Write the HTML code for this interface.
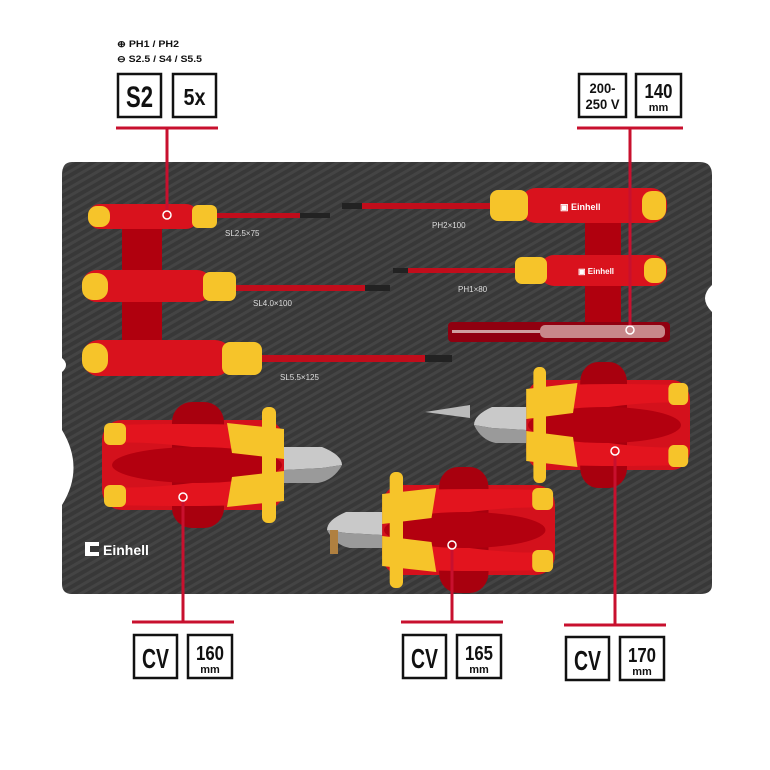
<!DOCTYPE html>
<html><head><meta charset="utf-8"><style>
html,body{margin:0;padding:0;background:#fff;}
svg{display:block;font-family:"Liberation Sans",sans-serif;}
.bx{fill:#fff;stroke:#111;stroke-width:2.5}
.bt{font-family:"Liberation Sans",sans-serif;font-weight:bold;fill:#111;text-anchor:middle}
.rl{stroke:#c8102e;stroke-width:3;fill:none}
.lbl{font-size:8px;fill:#ddd}
</style></head><body>
<svg width="770" height="770" viewBox="0 0 770 770">
<defs>
<pattern id="cf" width="7" height="7" patternUnits="userSpaceOnUse" patternTransform="rotate(-30)">
<rect width="7" height="7" fill="#383838"/>
<rect width="7" height="3" fill="#444"/>
</pattern>
<g id="pl">
<rect x="0" y="-45" width="182" height="90" rx="20" fill="#d4111c"/>
<rect x="70" y="-63" width="52" height="126" rx="20" fill="#a8000e"/>
<path d="M8,-40 Q90,-42 140,-40 L180,-36 L180,-8 Q120,-10 90,-18 Q40,-24 8,-22Z" fill="#e3141e"/>
<path d="M8,40 Q90,42 140,40 L180,36 L180,8 Q120,10 90,18 Q40,24 8,22Z" fill="#e3141e"/>
<ellipse cx="95" cy="0" rx="85" ry="18" fill="#b3000f"/>
<rect x="2" y="-42" width="22" height="22" rx="6" fill="#f6c42a"/>
<rect x="2" y="20" width="22" height="22" rx="6" fill="#f6c42a"/>
<path d="M125,-42 L182,-36 L182,-6 L130,-12 Z" fill="#f6c42a"/>
<path d="M125,42 L182,36 L182,6 L130,12 Z" fill="#f6c42a"/>
<rect x="160" y="-58" width="14" height="116" rx="6" fill="#f6c42a"/>
<path d="M182,-18 L220,-18 Q240,-10 240,0 L220,3 L182,5Z" fill="#c9c9c9"/>
<path d="M182,5 L220,3 L240,0 Q232,15 216,18 L182,18Z" fill="#9a9a9a"/>
</g>
</defs>
<!-- tray -->
<path d="M72,162 L700,162 Q712,162 712,175 L712,285 Q698,298 712,312 L712,585 Q712,594 700,594 L72,594 Q62,594 62,584 L62,505 Q85,468 62,430 L62,372 Q70,365 62,358 L62,175 Q62,162 72,162Z" fill="url(#cf)"/>
<rect x="122" y="220" width="40" height="130" fill="#b0000e"/>
<rect x="585" y="215" width="36" height="118" fill="#b0000e"/>
<rect x="215" y="213" width="115" height="5" fill="#c10d1b"/><rect x="300" y="213" width="30" height="5" fill="#222"/>
<rect x="88" y="204" width="110" height="25" rx="12" fill="#d9121d"/>
<rect x="88" y="206" width="22" height="21" rx="9" fill="#f6c42a"/>
<rect x="192" y="205" width="25" height="23" rx="6" fill="#f6c42a"/>
<text x="225" y="236" class="lbl">SL2.5×75</text>
<rect x="235" y="285" width="155" height="6" fill="#c10d1b"/><rect x="365" y="285" width="25" height="6" fill="#222"/>
<rect x="82" y="270" width="130" height="32" rx="15" fill="#d9121d"/>
<rect x="82" y="273" width="26" height="27" rx="11" fill="#f6c42a"/>
<rect x="203" y="272" width="33" height="29" rx="7" fill="#f6c42a"/>
<text x="253" y="306" class="lbl">SL4.0×100</text>
<rect x="260" y="355" width="192" height="7" fill="#c10d1b"/><rect x="425" y="355" width="27" height="7" fill="#222"/>
<rect x="82" y="340" width="150" height="36" rx="17" fill="#d9121d"/>
<rect x="82" y="343" width="26" height="30" rx="12" fill="#f6c42a"/>
<rect x="222" y="342" width="40" height="33" rx="8" fill="#f6c42a"/>
<text x="280" y="380" class="lbl">SL5.5×125</text>
<rect x="342" y="203" width="150" height="6" fill="#c10d1b"/><rect x="342" y="203" width="20" height="6" fill="#222"/>
<rect x="520" y="188" width="147" height="35" rx="16" fill="#d9121d"/>
<rect x="490" y="190" width="38" height="31" rx="8" fill="#f6c42a"/>
<rect x="642" y="191" width="24" height="29" rx="10" fill="#f6c42a"/>
<text x="560" y="210" font-size="9" font-weight="bold" fill="#fff">▣ Einhell</text>
<text x="432" y="228" class="lbl">PH2×100</text>
<rect x="393" y="268" width="125" height="5" fill="#c10d1b"/><rect x="393" y="268" width="15" height="5" fill="#222"/>
<rect x="540" y="255" width="127" height="31" rx="14" fill="#d9121d"/>
<rect x="515" y="257" width="32" height="27" rx="7" fill="#f6c42a"/>
<rect x="644" y="258" width="22" height="25" rx="9" fill="#f6c42a"/>
<text x="578" y="274" font-size="8" font-weight="bold" fill="#fff">▣ Einhell</text>
<text x="458" y="292" class="lbl">PH1×80</text>
<rect x="448" y="322" width="222" height="20" rx="4" fill="#900010"/>
<rect x="452" y="330" width="90" height="3" fill="#d0a0a0"/>
<rect x="540" y="325" width="125" height="13" rx="5" fill="#c8878a"/>
<use href="#pl" transform="translate(102,465)"/>
<use href="#pl" transform="translate(555,530) scale(-0.95,1)"/>
<use href="#pl" transform="translate(690,425) scale(-0.9,1)"/>
<path d="M470,405 L425,412 L470,418Z" fill="#bbb"/>
<rect x="330" y="530" width="8" height="24" fill="#b08040"/>
<rect x="85" y="542" width="14" height="14" fill="#fff"/>
<rect x="90" y="546" width="9" height="6" fill="#383838"/>
<text x="103" y="555" font-size="14" font-weight="bold" fill="#fff">Einhell</text>
<text x="117" y="47" font-size="9" font-weight="bold" fill="#111" textLength="62" lengthAdjust="spacingAndGlyphs">⊕ PH1 / PH2</text>
<text x="117" y="62" font-size="9" font-weight="bold" fill="#111" textLength="85" lengthAdjust="spacingAndGlyphs">⊖ S2.5 / S4 / S5.5</text>
<rect x="118" y="74" width="43" height="43" class="bx"/>
<text x="139.5" y="107" font-size="30" class="bt" textLength="27" lengthAdjust="spacingAndGlyphs">S2</text>
<rect x="173" y="74" width="43" height="43" class="bx"/>
<text x="194.5" y="105" font-size="23" class="bt" textLength="22" lengthAdjust="spacingAndGlyphs">5x</text>
<line x1="116" y1="128" x2="218" y2="128" class="rl"/>
<line x1="167" y1="128" x2="167" y2="211" class="rl"/>
<circle cx="167" cy="215" r="4" fill="none" stroke="#fff" stroke-width="1.5"/>
<rect x="579" y="74" width="47" height="43" class="bx"/>
<text x="602.5" y="93" font-size="14" class="bt" textLength="26" lengthAdjust="spacingAndGlyphs">200-</text>
<text x="602.5" y="109" font-size="14" class="bt" textLength="34" lengthAdjust="spacingAndGlyphs">250 V</text>
<rect x="636" y="74" width="45" height="43" class="bx"/>
<text x="658.5" y="98" font-size="20" class="bt" textLength="28" lengthAdjust="spacingAndGlyphs">140</text>
<text x="658.5" y="111" font-size="11" class="bt">mm</text>
<line x1="577" y1="128" x2="683" y2="128" class="rl"/>
<line x1="630" y1="128" x2="630" y2="326" class="rl"/>
<circle cx="630" cy="330" r="4" fill="none" stroke="#fff" stroke-width="1.5"/>
<g>
<line x1="183" y1="500" x2="183" y2="622" class="rl"/><circle cx="183" cy="497" r="4" fill="none" stroke="#fff" stroke-width="1.5"/>
<line x1="132" y1="622" x2="234" y2="622" class="rl"/>
<rect x="134" y="635" width="43" height="43" class="bx"/><text x="155.5" y="668" font-size="28" class="bt" textLength="27" lengthAdjust="spacingAndGlyphs">CV</text>
<rect x="188" y="635" width="44" height="43" class="bx"/><text x="210" y="660" font-size="20" class="bt" textLength="28" lengthAdjust="spacingAndGlyphs">160</text><text x="210" y="673" font-size="11" class="bt">mm</text>
</g>
<g>
<line x1="452" y1="548" x2="452" y2="622" class="rl"/><circle cx="452" cy="545" r="4" fill="none" stroke="#fff" stroke-width="1.5"/>
<line x1="401" y1="622" x2="503" y2="622" class="rl"/>
<rect x="403" y="635" width="43" height="43" class="bx"/><text x="424.5" y="668" font-size="28" class="bt" textLength="27" lengthAdjust="spacingAndGlyphs">CV</text>
<rect x="457" y="635" width="44" height="43" class="bx"/><text x="479" y="660" font-size="20" class="bt" textLength="28" lengthAdjust="spacingAndGlyphs">165</text><text x="479" y="673" font-size="11" class="bt">mm</text>
</g>
<g>
<line x1="615" y1="454" x2="615" y2="625" class="rl"/><circle cx="615" cy="451" r="4" fill="none" stroke="#fff" stroke-width="1.5"/>
<line x1="564" y1="625" x2="666" y2="625" class="rl"/>
<rect x="566" y="637" width="43" height="43" class="bx"/><text x="587.5" y="670" font-size="28" class="bt" textLength="27" lengthAdjust="spacingAndGlyphs">CV</text>
<rect x="620" y="637" width="44" height="43" class="bx"/><text x="642" y="662" font-size="20" class="bt" textLength="28" lengthAdjust="spacingAndGlyphs">170</text><text x="642" y="675" font-size="11" class="bt">mm</text>
</g>
</svg>
</body></html>
